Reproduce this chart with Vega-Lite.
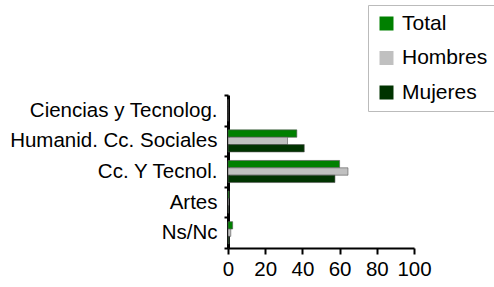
{
  "$schema": "https://vega.github.io/schema/vega-lite/v6.json",
  "width": 186,
  "height": 153,
  "autosize": {"type": "none"},
  "padding": {"left": 228, "top": 95, "right": 80, "bottom": 39},
  "background": "white",
  "config": {"view": {"stroke": null}, "font": "Liberation Sans"},
  "data": {
    "values": [
      {"area": "Ciencias y Tecnolog.", "ao": 1, "grupo": "Total", "go": 1, "valor": 0},
      {"area": "Ciencias y Tecnolog.", "ao": 1, "grupo": "Hombres", "go": 2, "valor": 0},
      {"area": "Ciencias y Tecnolog.", "ao": 1, "grupo": "Mujeres", "go": 3, "valor": 0},
      {"area": "Humanid. Cc. Sociales", "ao": 2, "grupo": "Total", "go": 1, "valor": 37},
      {"area": "Humanid. Cc. Sociales", "ao": 2, "grupo": "Hombres", "go": 2, "valor": 32},
      {"area": "Humanid. Cc. Sociales", "ao": 2, "grupo": "Mujeres", "go": 3, "valor": 41},
      {"area": "Cc. Y Tecnol.", "ao": 3, "grupo": "Total", "go": 1, "valor": 60},
      {"area": "Cc. Y Tecnol.", "ao": 3, "grupo": "Hombres", "go": 2, "valor": 64.5},
      {"area": "Cc. Y Tecnol.", "ao": 3, "grupo": "Mujeres", "go": 3, "valor": 57.5},
      {"area": "Artes", "ao": 4, "grupo": "Total", "go": 1, "valor": 0.6},
      {"area": "Artes", "ao": 4, "grupo": "Hombres", "go": 2, "valor": 0.4},
      {"area": "Artes", "ao": 4, "grupo": "Mujeres", "go": 3, "valor": 0.3},
      {"area": "Ns/Nc", "ao": 5, "grupo": "Total", "go": 1, "valor": 2.5},
      {"area": "Ns/Nc", "ao": 5, "grupo": "Hombres", "go": 2, "valor": 1.5},
      {"area": "Ns/Nc", "ao": 5, "grupo": "Mujeres", "go": 3, "valor": 0.6}
    ]
  },
  "mark": {"type": "bar", "stroke": "#555555", "strokeWidth": 0.6},
  "encoding": {
    "y": {
      "field": "area",
      "type": "nominal",
      "sort": {"field": "ao", "op": "min"},
      "scale": {"paddingInner": 0, "paddingOuter": 0},
      "axis": {
        "title": null,
        "labelFontSize": 20.5,
        "labelLimit": 0,
        "labelColor": "black",
        "labelPadding": 7,
        "tickBand": "extent",
        "tickSize": 4,
        "tickColor": "black",
        "tickWidth": 2,
        "domainColor": "black",
        "domainWidth": 3
      }
    },
    "yOffset": {
      "field": "grupo",
      "type": "nominal",
      "sort": {"field": "go", "op": "min"},
      "scale": {"paddingInner": 0, "paddingOuter": 0.58}
    },
    "x": {
      "field": "valor",
      "type": "quantitative",
      "scale": {"domain": [0, 100]},
      "axis": {
        "title": null,
        "values": [0, 20, 40, 60, 80, 100],
        "grid": false,
        "labelFontSize": 20.5,
        "labelColor": "black",
        "labelPadding": 5,
        "tickSize": 6,
        "tickColor": "black",
        "tickWidth": 2,
        "domainColor": "black",
        "domainWidth": 2,
        "labelFlush": false
      }
    },
    "color": {
      "field": "grupo",
      "type": "nominal",
      "scale": {"domain": ["Total", "Hombres", "Mujeres"], "range": ["#008000", "#c0c0c0", "#003300"]},
      "legend": {
        "title": null,
        "orient": "none",
        "legendX": 140,
        "legendY": -90,
        "symbolType": "square",
        "symbolSize": 196,
        "symbolStrokeWidth": 0,
        "labelFontSize": 21,
        "labelLimit": 0,
        "labelColor": "black",
        "labelOffset": 5,
        "rowPadding": 12.5,
        "padding": 8,
        "strokeColor": "#bbbbbb",
        "fillColor": "white"
      }
    }
  }
}
